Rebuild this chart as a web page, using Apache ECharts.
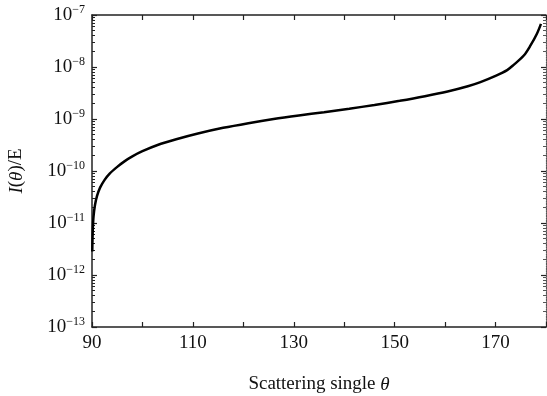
<!DOCTYPE html>
<html><head><meta charset="utf-8">
<script src="https://cdn.jsdelivr.net/npm/echarts@6/dist/echarts.min.js"></script>
<style>html,body{margin:0;padding:0;background:#fff}#c{width:547px;height:396px}</style>
</head><body><div id="c"></div>
<script>
var theta = [90.05,90.15,90.3,90.6,91.0,91.6,92.5,93.5,95,96.5,98,100,103,106.7,111,116,121,126,131,136,141,146,151,156,160.5,164.5,167,170,172.3,173.6,175.6,176.9,178.2,179];
var intensity = [2.82e-12,7.08e-12,1.32e-11,2.24e-11,3.31e-11,4.79e-11,6.76e-11,8.91e-11,1.20e-10,1.55e-10,1.91e-10,2.40e-10,3.16e-10,4.07e-10,5.25e-10,6.76e-10,8.32e-10,1.0e-9,1.17e-9,1.35e-9,1.58e-9,1.86e-9,2.24e-9,2.75e-9,3.39e-9,4.27e-9,5.13e-9,6.76e-9,8.71e-9,1.10e-8,1.66e-8,2.57e-8,4.37e-8,6.76e-8];
var xLabels = [90,110,130,150,170];
var yExponents = [-13,-12,-11,-10,-9,-8,-7];

var minorVals = [];
yExponents.slice(0,-1).forEach(function(e){for(var k=2;k<=9;k++){minorVals.push(k*Math.pow(10,e));}});
var data = theta.map(function(t,i){return [t,intensity[i]];});
var FONT = 'Liberation Serif';
var axisCol = '#222';

var chart = echarts.init(document.getElementById('c'));
var yBase = {type:'log',logBase:10,min:1e-13,max:1e-7,splitLine:{show:false}};
chart.setOption({
  animation:false,
  grid:{left:92,right:1,top:15,bottom:69,containLabel:false,outerBoundsMode:'none'},
  xAxis:[
    {type:'value',min:90,max:180,interval:10,position:'bottom',
     name:'{n|Scattering single }{i|θ}',nameLocation:'middle',nameGap:48,
     nameTextStyle:{rich:{n:{fontFamily:FONT,fontSize:19,color:'#111'},i:{fontFamily:FONT,fontSize:19,fontStyle:'italic',color:'#111'}}},
     axisLine:{lineStyle:{color:axisCol,width:1.5}},
     axisTick:{inside:true,length:5,lineStyle:{color:axisCol,width:1.2}},
     axisLabel:{customValues:xLabels,fontFamily:FONT,fontSize:19,color:'#111',margin:7},
     splitLine:{show:false}},
    {type:'value',min:90,max:180,interval:10,position:'top',
     axisLine:{lineStyle:{color:axisCol,width:1.5}},
     axisTick:{inside:true,length:5,lineStyle:{color:axisCol,width:1.2}},
     axisLabel:{show:false},splitLine:{show:false}}
  ],
  yAxis:[
    Object.assign({},yBase,{position:'left',
     name:'{i|I}{n|(}{i|θ}{n|)/E}',nameLocation:'middle',nameGap:66,nameRotate:90,
     nameTextStyle:{rich:{n:{fontFamily:FONT,fontSize:19,color:'#111'},i:{fontFamily:FONT,fontSize:19,fontStyle:'italic',color:'#111'}}},
     axisLine:{show:true,lineStyle:{color:axisCol,width:1.5}},
     axisTick:{inside:true,length:5,lineStyle:{color:axisCol,width:1.2}},
     axisLabel:{margin:7,formatter:function(v){var e=Math.round(Math.log10(v));return '{b|10}{s|−'+(-e)+'}';},
       rich:{b:{fontFamily:FONT,fontSize:19,color:'#111'},s:{fontFamily:FONT,fontSize:12,color:'#111',verticalAlign:'bottom',padding:[0,0,10,0]}}}}),
    Object.assign({},yBase,{position:'left',
     axisLine:{show:false},
     axisTick:{inside:true,length:3,customValues:minorVals,lineStyle:{color:axisCol,width:1}},
     axisLabel:{show:false}}),
    Object.assign({},yBase,{position:'right',
     axisLine:{show:true,lineStyle:{color:'#555',width:1.2,type:'dotted'}},
     axisTick:{inside:true,length:5,lineStyle:{color:axisCol,width:1.2}},
     axisLabel:{show:false}}),
    Object.assign({},yBase,{position:'right',
     axisLine:{show:false},
     axisTick:{inside:true,length:3,customValues:minorVals,lineStyle:{color:'#555',width:1}},
     axisLabel:{show:false}})
  ],
  series:[{type:'line',xAxisIndex:0,yAxisIndex:0,data:data,showSymbol:false,smooth:0.3,
    lineStyle:{color:'#000',width:2.5}}]
});
</script></body></html>
